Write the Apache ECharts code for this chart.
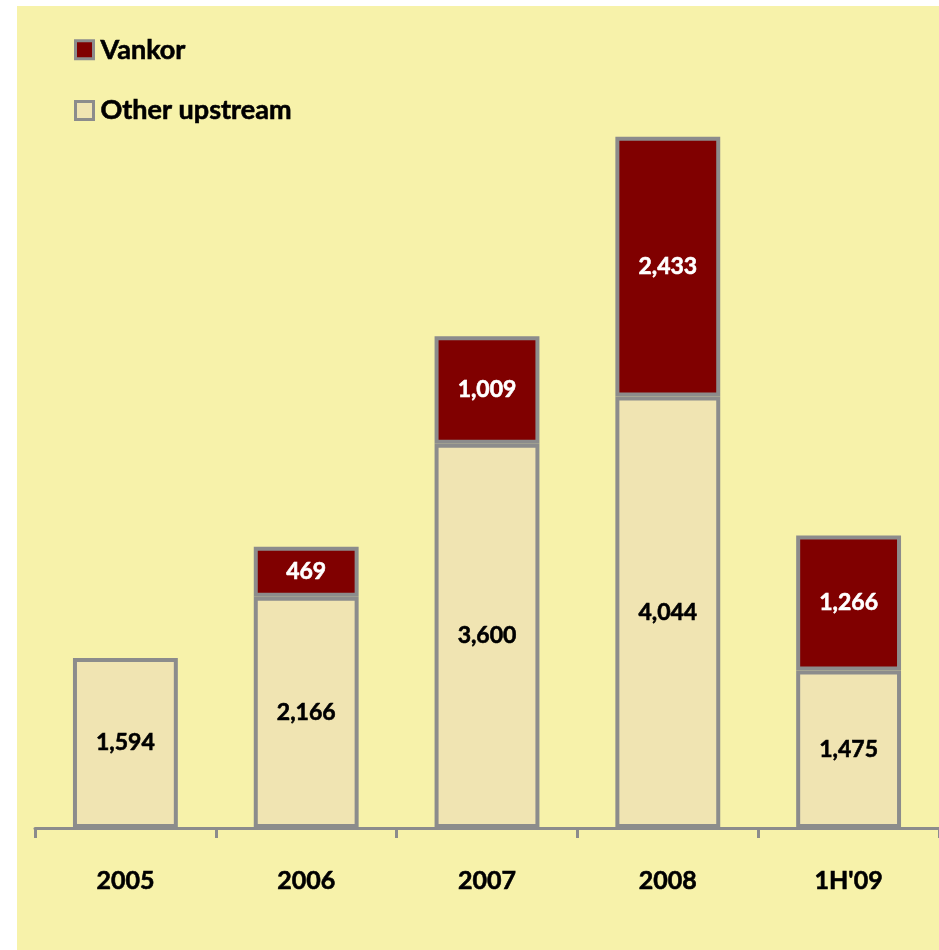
<!DOCTYPE html>
<html><head><meta charset="utf-8">
<script src="https://cdn.jsdelivr.net/npm/echarts@6/dist/echarts.min.js"></script>
<style>html,body{margin:0;padding:0;background:#fff}#c{width:939px;height:950px}</style>
</head><body><div id="c"></div>
<script>
const categories = ['2005', '2006', '2007', '2008', "1H'09"];
const otherUpstream = [1594, 2166, 3600, 4044, 1475];
const vankor = [null, 469, 1009, 2433, 1266];

const chart = echarts.init(document.getElementById('c'));
const fmt = p => p.value == null ? '' : p.value.toLocaleString('en-US');
const font = 'Lato, "Open Sans", sans-serif';
chart.setOption({
  backgroundColor: '#ffffff',
  animation: false,
  graphic: [{type: 'rect', z: -10, shape: {x: 17, y: 6, width: 930, height: 950}, style: {fill: '#F7F2AA'}}],
  legend: {
    data: ['Vankor', 'Other upstream'],
    orient: 'vertical', left: 69, top: 31, itemWidth: 18, itemHeight: 18, itemGap: 33,
    itemStyle: {borderWidth: 3, borderColor: '#8c8c8c'},
    textStyle: {fontFamily: font, fontWeight: 'bold', fontSize: 27, color: '#000', padding: [0,0,0,2],
                textBorderColor: '#000', textBorderWidth: 0.6},
    icon: 'rect'
  },
  grid: {left: 35, right: -3, top: 81, bottom: 122},
  xAxis: {
    type: 'category', data: categories,
    axisLine: {lineStyle: {color: '#8c8c8c', width: 3}},
    axisTick: {show: true, length: 10, lineStyle: {color: '#8c8c8c', width: 3}},
    axisLabel: {fontFamily: font, fontWeight: 'bold', fontSize: 25, color: '#000', margin: 40,
                textBorderColor: '#000', textBorderWidth: 0.6}
  },
  yAxis: {type: 'value', min: 0, max: 7000, show: false, splitLine: {show: false}},
  series: [
    {name: 'Other upstream', type: 'bar', stack: 's', data: otherUpstream, barWidth: '58%',
     itemStyle: {color: '#F0E4B2', borderColor: '#8c8c8c', borderWidth: 4},
     label: {show: true, position: 'inside', formatter: fmt, fontFamily: font, fontWeight: 'bold', fontSize: 23, color: '#000',
             textBorderColor: '#000', textBorderWidth: 0.6}},
    {name: 'Vankor', type: 'bar', stack: 's', data: vankor, barWidth: '58%',
     itemStyle: {color: '#800000', borderColor: '#8c8c8c', borderWidth: 4},
     label: {show: true, position: 'inside', formatter: fmt, fontFamily: font, fontWeight: 'bold', fontSize: 23, color: '#fff',
             textBorderColor: '#fff', textBorderWidth: 0.6}}
  ]
});
</script></body></html>
